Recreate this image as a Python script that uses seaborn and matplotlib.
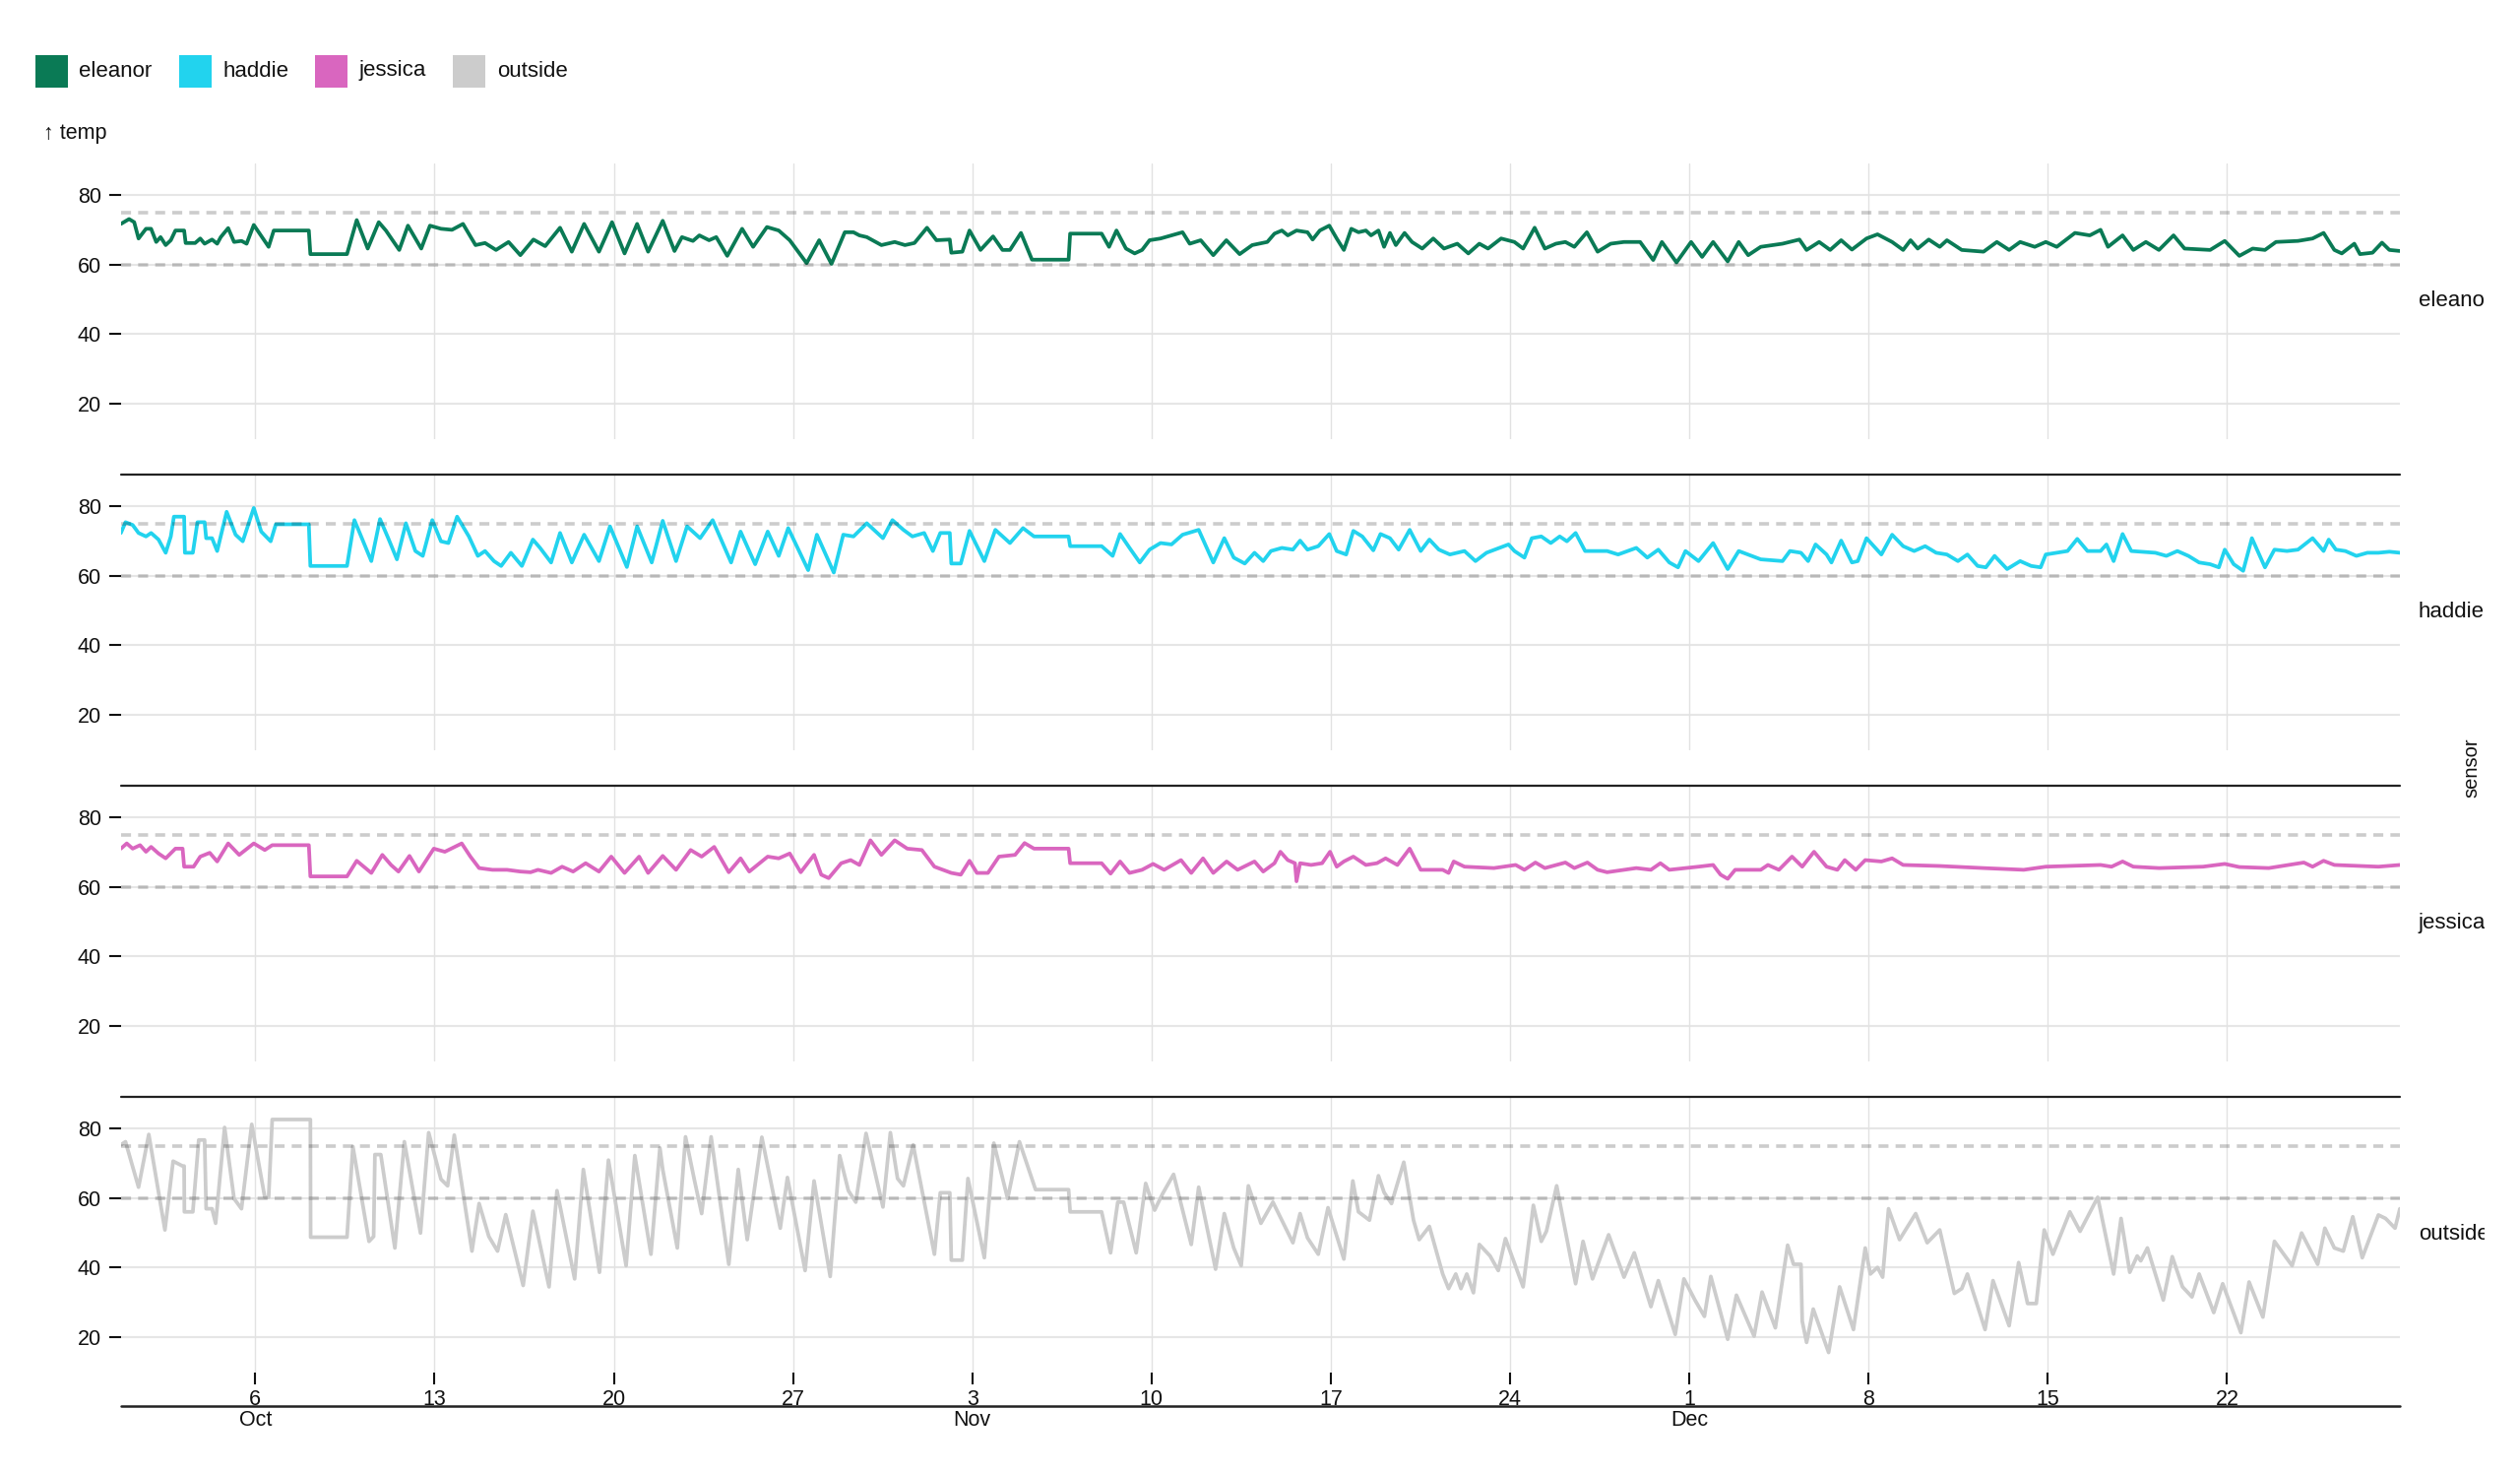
import numpy as np
import pandas as pd
import matplotlib
matplotlib.use("Agg")
import matplotlib.pyplot as plt
import matplotlib.dates as mdates
import seaborn as sns
from matplotlib.transforms import Bbox, blended_transform_factory
from matplotlib.patches import Rectangle
from matplotlib.lines import Line2D

# ---------------- data ----------------
sensors = ["eleanor", "haddie", "jessica", "outside"]
sensor_colors = ["#0a7a55", "#22d3ee", "#d966bf", "#cccccc"]
comfort_band = [60, 75]
y_ticks = [20, 40, 60, 80]
start_date = "2024-10-01"
week_ticks = pd.date_range("2024-10-06", "2024-12-22", freq="7D")
month_ticks = ["2024-10-06", "2024-11-03", "2024-12-01"]
month_labels = ["Oct", "Nov", "Dec"]

# (days since Oct 1, temperature)
eleanor = [
    (-0.25, 71.7), (0.07, 73.1), (0.27, 72.2), (0.44, 67.5), (0.73, 70.3), (0.93, 70.3), (1.13, 66.5),
    (1.30, 67.9), (1.50, 65.6), (1.70, 67.0), (1.88, 69.8), (2.22, 69.8), (2.28, 66.2), (2.65, 66.2),
    (2.85, 67.5), (3.02, 66.0), (3.31, 67.2), (3.51, 66.0), (3.65, 67.9), (3.94, 70.5), (4.17, 66.5),
    (4.46, 66.8), (4.66, 66.0), (4.94, 71.4), (5.17, 68.9), (5.52, 65.1), (5.72, 69.8), (7.09, 69.8),
    (7.15, 63.0), (8.58, 63.0), (8.96, 72.8), (9.39, 64.6), (9.82, 72.2), (10.10, 69.8), (10.62, 64.2),
    (10.96, 71.2), (11.48, 64.6), (11.82, 71.2), (12.25, 70.3), (12.68, 70.0), (13.11, 71.7), (13.60, 65.6),
    (13.97, 66.2), (14.40, 64.2), (14.89, 66.5), (15.35, 62.7), (15.86, 67.2), (16.32, 65.3), (16.90, 70.6),
    (17.36, 63.7), (17.84, 71.7), (18.42, 63.7), (18.93, 72.2), (19.42, 63.2), (19.91, 71.7), (20.34, 63.7),
    (20.91, 72.6), (21.37, 63.9), (21.66, 67.9), (22.09, 66.8), (22.34, 68.4), (22.72, 67.0), (23.00, 67.9),
    (23.43, 62.5), (24.01, 70.3), (24.44, 65.1), (24.98, 70.8), (25.44, 69.8), (25.87, 67.0), (26.53, 60.4),
    (27.02, 67.0), (27.50, 60.2), (28.02, 69.3), (28.36, 69.3), (28.59, 68.4), (28.88, 67.9), (29.45, 65.6),
    (29.97, 66.5), (30.37, 65.6), (30.74, 66.2), (31.23, 70.6), (31.60, 67.0), (32.12, 67.2), (32.18, 63.4),
    (32.61, 63.7), (32.89, 69.8), (33.32, 64.2), (33.81, 68.1), (34.18, 64.2), (34.47, 64.2), (34.90, 69.1),
    (35.33, 61.4), (36.76, 61.4), (36.82, 68.9), (38.05, 68.9), (38.34, 65.1), (38.63, 69.8), (39.00, 64.6),
    (39.34, 63.2), (39.63, 64.2), (39.92, 67.0), (40.35, 67.5), (40.78, 68.4), (41.21, 69.3), (41.49, 66.0),
    (41.92, 67.0), (42.41, 62.7), (42.92, 67.0), (43.44, 63.0), (43.93, 65.6), (44.52, 66.5), (44.80, 68.9),
    (45.09, 69.8), (45.32, 68.4), (45.66, 69.8), (46.09, 69.3), (46.29, 67.2), (46.57, 69.8), (46.94, 71.2),
    (47.23, 67.5), (47.51, 64.2), (47.80, 70.3), (48.08, 69.3), (48.37, 69.8), (48.57, 68.4), (48.86, 69.8),
    (49.08, 65.1), (49.31, 69.1), (49.54, 65.6), (49.88, 69.1), (50.17, 66.5), (50.57, 64.6), (51.00, 67.5),
    (51.42, 64.6), (51.94, 66.0), (52.37, 63.2), (52.80, 66.0), (53.14, 64.6), (53.65, 67.5), (54.17, 66.5),
    (54.51, 64.6), (54.96, 70.6), (55.36, 64.6), (55.79, 66.0), (56.16, 66.5), (56.51, 65.1), (57.00, 69.3),
    (57.42, 63.7), (57.93, 66.0), (58.45, 66.5), (59.08, 66.5), (59.59, 61.3), (59.93, 66.5), (60.50, 60.6),
    (61.07, 66.5), (61.50, 62.2), (61.93, 66.5), (62.50, 60.9), (62.93, 66.5), (63.30, 62.7), (63.79, 65.1),
    (64.64, 66.0), (65.30, 67.2), (65.58, 64.2), (66.07, 66.5), (66.50, 64.2), (66.93, 67.0), (67.35, 64.3),
    (67.92, 67.5), (68.35, 68.7), (68.92, 66.5), (69.35, 64.2), (69.64, 67.0), (69.92, 64.6), (70.35, 67.2),
    (70.78, 65.1), (71.06, 67.0), (71.64, 64.2), (72.49, 63.7), (73.01, 66.5), (73.49, 64.2), (73.92, 66.5),
    (74.49, 65.1), (74.92, 66.5), (75.35, 65.1), (76.06, 69.1), (76.64, 68.4), (77.06, 70.0), (77.35, 65.1),
    (77.92, 68.4), (78.34, 64.2), (78.83, 66.5), (79.34, 64.2), (79.91, 68.4), (80.34, 64.6), (81.34, 64.2),
    (81.91, 66.8), (82.48, 62.5), (83.00, 64.6), (83.48, 64.2), (83.91, 66.5), (84.77, 66.8), (85.34, 67.5),
    (85.77, 69.1), (86.19, 64.2), (86.48, 63.2), (86.97, 66.0), (87.19, 63.0), (87.68, 63.4), (88.05, 66.3),
    (88.34, 64.2), (88.75, 63.9),
]

haddie = [
    (-0.25, 72.3), (-0.07, 75.4), (0.21, 74.6), (0.44, 72.3), (0.73, 71.3), (0.93, 72.3), (1.22, 70.4),
    (1.50, 66.6), (1.70, 71.3), (1.82, 77.0), (2.22, 77.0), (2.25, 66.6), (2.56, 66.6), (2.74, 75.4),
    (3.02, 75.4), (3.08, 70.8), (3.31, 70.8), (3.51, 67.1), (3.88, 78.4), (4.23, 71.8), (4.51, 69.9),
    (4.94, 79.5), (5.23, 72.7), (5.60, 69.9), (5.80, 74.8), (7.09, 74.8), (7.15, 62.8), (8.58, 62.8),
    (8.87, 76.0), (9.16, 70.8), (9.53, 64.2), (9.87, 76.3), (10.19, 70.8), (10.53, 64.7), (10.88, 75.1),
    (11.25, 67.1), (11.54, 65.7), (11.91, 76.0), (12.25, 69.9), (12.54, 69.4), (12.88, 77.0), (13.34, 71.3),
    (13.69, 65.7), (13.97, 67.1), (14.32, 64.2), (14.60, 62.8), (14.98, 66.6), (15.41, 62.8), (15.84, 70.4),
    (16.12, 68.0), (16.55, 63.8), (16.90, 72.3), (17.36, 63.8), (17.84, 71.8), (18.42, 64.2), (18.85, 74.2),
    (19.51, 62.5), (19.91, 74.2), (20.48, 63.8), (20.91, 75.8), (21.43, 64.2), (21.86, 74.2), (22.37, 70.8),
    (22.86, 76.0), (23.58, 63.8), (23.95, 72.7), (24.52, 63.3), (25.01, 72.7), (25.44, 65.7), (25.81, 73.7),
    (26.59, 61.6), (26.93, 71.8), (27.59, 60.9), (27.96, 71.8), (28.36, 71.3), (28.88, 75.1), (29.51, 70.8),
    (29.88, 76.0), (30.31, 73.2), (30.66, 71.3), (31.12, 72.3), (31.46, 67.1), (31.75, 72.3), (32.12, 72.3),
    (32.18, 63.5), (32.55, 63.5), (32.89, 72.9), (33.47, 64.2), (33.90, 73.2), (34.47, 69.4), (34.98, 73.7),
    (35.41, 71.3), (36.76, 71.3), (36.82, 68.5), (38.05, 68.5), (38.48, 65.7), (38.77, 72.0), (39.14, 68.0),
    (39.54, 63.8), (39.92, 67.5), (40.35, 69.4), (40.78, 69.0), (41.21, 71.8), (41.84, 73.2), (42.41, 63.8),
    (42.84, 70.8), (43.21, 65.2), (43.64, 63.5), (44.02, 66.6), (44.36, 64.2), (44.66, 67.1), (45.09, 68.0),
    (45.52, 67.5), (45.80, 70.1), (46.09, 67.5), (46.51, 68.5), (46.94, 72.0), (47.23, 67.1), (47.60, 66.1),
    (47.88, 72.9), (48.23, 71.3), (48.66, 67.3), (48.94, 72.0), (49.31, 70.8), (49.65, 67.5), (50.08, 73.2),
    (50.51, 67.1), (50.85, 70.4), (51.22, 67.5), (51.65, 66.1), (52.22, 67.1), (52.65, 64.2), (53.08, 66.6),
    (53.94, 69.0), (54.17, 67.1), (54.56, 65.2), (54.85, 70.8), (55.22, 71.3), (55.59, 69.4), (55.94, 71.3),
    (56.22, 69.9), (56.56, 72.3), (56.93, 67.1), (57.79, 67.1), (58.22, 66.1), (58.93, 68.0), (59.36, 65.2),
    (59.79, 67.5), (60.22, 63.8), (60.56, 62.4), (60.85, 67.1), (61.36, 64.2), (61.93, 69.4), (62.50, 61.9),
    (62.93, 67.1), (63.79, 64.7), (64.64, 64.2), (64.93, 67.1), (65.36, 66.6), (65.64, 64.2), (65.93, 69.0),
    (66.36, 66.1), (66.55, 63.8), (66.93, 70.1), (67.35, 63.8), (67.58, 64.2), (67.92, 70.8), (68.50, 66.1),
    (68.92, 71.8), (69.35, 68.5), (69.78, 67.1), (70.21, 68.5), (70.64, 66.6), (71.06, 66.1), (71.49, 64.2),
    (71.86, 66.1), (72.26, 62.8), (72.58, 62.4), (72.92, 65.7), (73.41, 61.9), (73.92, 64.2), (74.35, 62.8),
    (74.72, 62.4), (74.92, 66.1), (75.35, 66.6), (75.77, 67.1), (76.15, 70.6), (76.55, 67.1), (77.06, 67.1),
    (77.29, 69.0), (77.57, 64.2), (77.92, 72.0), (78.26, 67.1), (79.20, 66.6), (79.63, 65.7), (80.06, 67.1),
    (80.49, 65.7), (80.91, 63.8), (81.34, 63.3), (81.68, 62.4), (81.91, 67.5), (82.26, 63.3), (82.63, 61.4),
    (82.97, 70.8), (83.48, 62.4), (83.85, 67.5), (84.34, 67.1), (84.77, 67.5), (85.34, 70.8), (85.77, 67.1),
    (85.97, 70.4), (86.25, 67.5), (86.62, 67.1), (87.05, 65.7), (87.48, 66.6), (87.91, 66.6), (88.34, 66.9),
    (88.75, 66.6),
]

jessica = [
    (-0.25, 71.0), (-0.02, 72.5), (0.21, 71.0), (0.50, 72.0), (0.73, 70.1), (0.93, 71.5), (1.22, 69.6),
    (1.50, 68.2), (1.88, 71.0), (2.16, 71.0), (2.22, 65.8), (2.59, 65.8), (2.85, 68.7), (3.22, 69.8),
    (3.51, 67.3), (3.94, 72.5), (4.37, 69.2), (4.94, 72.5), (5.37, 70.6), (5.66, 72.0), (7.09, 72.0),
    (7.15, 63.0), (8.58, 63.0), (8.96, 67.5), (9.24, 65.8), (9.53, 64.0), (9.96, 69.2), (10.30, 66.3),
    (10.59, 64.4), (11.02, 68.9), (11.39, 64.4), (11.97, 71.0), (12.40, 70.1), (13.06, 72.5), (13.40, 68.7),
    (13.74, 65.4), (14.26, 64.9), (14.83, 64.9), (15.35, 64.4), (15.75, 64.2), (16.04, 64.9), (16.55, 64.0),
    (16.98, 65.8), (17.41, 64.4), (17.90, 66.8), (18.42, 64.4), (18.90, 68.7), (19.42, 64.0), (19.99, 68.7),
    (20.34, 64.0), (20.91, 68.9), (21.43, 64.9), (22.00, 70.6), (22.43, 68.7), (22.92, 71.5), (23.49, 64.2),
    (23.95, 68.2), (24.29, 64.4), (25.01, 68.7), (25.44, 68.2), (25.87, 69.6), (26.30, 64.2), (26.82, 69.2),
    (27.10, 63.5), (27.39, 62.5), (27.88, 66.8), (28.25, 67.7), (28.59, 66.3), (29.02, 73.4), (29.45, 69.2),
    (29.97, 73.4), (30.46, 71.0), (31.03, 70.6), (31.52, 65.8), (32.18, 64.0), (32.55, 63.5), (32.89, 67.5),
    (33.18, 64.0), (33.61, 64.0), (34.04, 68.7), (34.67, 69.2), (35.04, 72.6), (35.41, 71.0), (36.76, 71.0),
    (36.82, 66.8), (38.05, 66.8), (38.40, 63.8), (38.77, 67.3), (39.14, 64.0), (39.63, 64.9), (40.06, 66.6),
    (40.49, 64.9), (41.15, 67.7), (41.55, 64.0), (42.01, 68.2), (42.41, 64.0), (42.93, 67.3), (43.36, 64.9),
    (44.02, 67.3), (44.36, 64.4), (44.80, 66.8), (45.03, 70.1), (45.32, 67.7), (45.60, 66.8), (45.66, 61.6),
    (45.80, 66.8), (46.23, 66.3), (46.66, 66.8), (46.97, 70.1), (47.23, 65.8), (47.51, 67.3), (47.88, 68.7),
    (48.37, 66.3), (48.80, 66.8), (49.14, 68.2), (49.60, 66.3), (50.08, 71.0), (50.51, 64.9), (51.37, 64.9),
    (51.60, 64.0), (51.80, 67.3), (52.22, 65.8), (53.37, 65.4), (54.22, 66.3), (54.56, 64.9), (54.99, 67.0),
    (55.36, 65.4), (56.16, 67.0), (56.51, 65.4), (57.02, 67.0), (57.42, 64.9), (57.79, 64.2), (58.93, 65.4),
    (59.50, 64.9), (59.87, 66.8), (60.22, 64.9), (61.36, 65.8), (61.93, 66.3), (62.22, 63.5), (62.50, 62.3),
    (62.79, 64.9), (63.79, 64.9), (64.07, 66.3), (64.50, 64.9), (65.01, 68.7), (65.41, 65.8), (65.87, 70.1),
    (66.36, 65.8), (66.78, 64.9), (67.07, 67.7), (67.50, 64.9), (67.87, 67.7), (68.50, 67.3), (68.92, 68.2),
    (69.35, 66.3), (70.78, 66.0), (72.49, 65.4), (74.06, 64.9), (74.92, 65.8), (77.06, 66.3), (77.49, 65.8),
    (77.92, 67.3), (78.34, 65.8), (79.34, 65.4), (81.06, 65.8), (81.91, 66.6), (82.48, 65.7), (83.63, 65.4),
    (85.00, 67.0), (85.34, 65.8), (85.77, 67.5), (86.19, 66.3), (87.91, 65.8), (88.75, 66.3),
]

outside = [
    (-0.25, 75.3), (-0.07, 76.2), (0.44, 63.1), (0.84, 78.3), (1.47, 50.8), (1.79, 70.6), (2.16, 69.2),
    (2.22, 69.2), (2.23, 56.0), (2.56, 56.0), (2.79, 76.7), (3.02, 76.7), (3.08, 56.9), (3.31, 56.9),
    (3.45, 52.7), (3.80, 80.3), (4.17, 59.8), (4.46, 56.9), (4.86, 81.2), (5.37, 60.2), (5.52, 60.2),
    (5.66, 82.6), (7.15, 82.6), (7.16, 48.7), (8.58, 48.7), (8.81, 74.8), (9.44, 47.5), (9.62, 48.9),
    (9.67, 72.5), (9.90, 72.5), (10.45, 45.6), (10.82, 76.2), (11.45, 49.9), (11.77, 78.8), (12.25, 65.4),
    (12.51, 63.5), (12.77, 78.1), (13.46, 44.7), (13.74, 58.4), (14.12, 48.9), (14.46, 44.7), (14.78, 55.2),
    (15.46, 34.8), (15.84, 56.2), (16.47, 34.4), (16.78, 62.1), (17.47, 36.7), (17.81, 68.2), (18.44, 38.6),
    (18.79, 70.9), (19.48, 40.5), (19.82, 72.2), (20.45, 43.8), (20.80, 74.4), (20.91, 68.2), (21.48, 45.6),
    (21.80, 77.6), (22.14, 65.4), (22.43, 55.5), (22.80, 77.6), (23.49, 40.9), (23.86, 68.2), (24.21, 48.0),
    (24.78, 77.5), (25.50, 51.3), (25.78, 65.9), (26.47, 39.1), (26.82, 64.9), (27.45, 37.4), (27.82, 72.2),
    (28.16, 62.1), (28.45, 58.8), (28.85, 78.6), (29.51, 57.4), (29.80, 78.8), (30.08, 65.6), (30.31, 63.5),
    (30.69, 75.3), (31.52, 43.8), (31.75, 61.5), (32.12, 61.5), (32.18, 42.1), (32.61, 42.1), (32.83, 65.6),
    (33.47, 42.8), (33.84, 75.8), (34.38, 59.8), (34.84, 76.2), (35.47, 62.4), (36.76, 62.4), (36.82, 56.0),
    (38.05, 56.0), (38.40, 44.2), (38.68, 58.8), (38.91, 58.8), (39.40, 44.2), (39.77, 64.2), (40.12, 56.5),
    (40.43, 61.2), (40.86, 66.8), (41.55, 46.6), (41.84, 63.1), (42.50, 39.5), (42.84, 55.5), (43.21, 45.6),
    (43.50, 40.5), (43.78, 63.5), (44.27, 52.7), (44.74, 58.8), (45.52, 47.1), (45.80, 55.5), (46.09, 48.5),
    (46.51, 43.8), (46.89, 57.2), (47.51, 42.4), (47.86, 64.9), (48.08, 56.0), (48.51, 53.6), (48.86, 66.4),
    (49.08, 61.6), (49.37, 58.4), (49.85, 70.3), (50.23, 53.6), (50.45, 48.0), (50.85, 51.8), (51.37, 38.1),
    (51.60, 33.9), (51.88, 38.1), (52.08, 33.9), (52.31, 38.1), (52.57, 32.7), (52.80, 46.6), (53.22, 43.3),
    (53.54, 39.1), (53.82, 48.3), (54.51, 34.4), (54.91, 57.9), (55.22, 47.5), (55.42, 50.4), (55.82, 63.5),
    (56.56, 35.3), (56.85, 47.5), (57.22, 36.7), (57.85, 49.4), (58.45, 37.2), (58.85, 44.2), (59.50, 28.7),
    (59.79, 36.2), (60.45, 20.7), (60.79, 36.7), (61.22, 30.6), (61.59, 25.9), (61.84, 37.4), (62.50, 19.3),
    (62.84, 32.0), (63.53, 20.2), (63.84, 32.9), (64.36, 22.6), (64.84, 46.4), (65.07, 40.9), (65.36, 40.9),
    (65.41, 24.5), (65.58, 18.4), (65.84, 28.0), (66.44, 15.5), (66.87, 34.4), (67.41, 22.1), (67.87, 45.6),
    (68.07, 38.1), (68.35, 40.0), (68.55, 37.2), (68.78, 56.9), (69.21, 48.0), (69.84, 55.5), (70.29, 47.1),
    (70.78, 50.8), (71.35, 32.5), (71.64, 33.9), (71.86, 38.1), (72.55, 22.1), (72.86, 36.2), (73.49, 23.2),
    (73.86, 41.4), (74.21, 29.6), (74.55, 29.6), (74.86, 50.8), (75.20, 43.8), (75.86, 56.0), (76.26, 50.4),
    (76.95, 60.2), (77.57, 38.1), (77.86, 54.1), (78.20, 38.6), (78.49, 43.3), (78.63, 41.9), (78.89, 45.6),
    (79.51, 30.6), (79.86, 43.1), (80.26, 34.4), (80.63, 31.5), (80.91, 38.1), (81.48, 27.0), (81.83, 35.3),
    (82.54, 21.2), (82.86, 35.8), (83.40, 25.7), (83.85, 47.5), (84.54, 40.5), (84.91, 49.9), (85.54, 40.9),
    (85.82, 51.3), (86.19, 45.6), (86.54, 44.7), (86.91, 54.6), (87.28, 42.8), (87.91, 55.1), (88.19, 54.1),
    (88.56, 51.3), (88.75, 56.9),
]

series = {"eleanor": eleanor, "haddie": haddie, "jessica": jessica, "outside": outside}

# ---------------- build long table ----------------
rows = []
for name, pts in series.items():
    for d, v in pts:
        rows.append((name, d, v))
df = pd.DataFrame(rows, columns=["sensor", "day", "temp"])
df["time"] = pd.Timestamp(start_date) + pd.to_timedelta(df["day"], unit="D")

# ---------------- style ----------------
sns.set_theme(style="white")
plt.rcParams["font.family"] = ["Liberation Sans", "DejaVu Sans"]
FS = 15.5

W, H = 2560, 1496
fig = plt.figure(figsize=(W / 100, H / 100), dpi=100, facecolor="white")

def fx(x):
    return x / W

def fy(y):
    return 1 - y / H

L, R = 122.8, 2438.0
tops = [165.7, 481.7, 797.7, 1113.7]
PH = 280.0
tmin, tmax = df["time"].min(), df["time"].max()

axes = []
for i, s in enumerate(sensors):
    ax = fig.add_axes([fx(L), fy(tops[i] + PH), (R - L) / W, PH / H])
    ax.set_facecolor("none")
    for yv in y_ticks:
        ax.axhline(yv, color="#e6e6e6", lw=1.5, zorder=0)
    for t in week_ticks:
        ax.axvline(t, color="#e2e2e2", lw=1.0, zorder=0)
    sub = df[df["sensor"] == s]
    sns.lineplot(data=sub, x="time", y="temp", color=sensor_colors[i], linewidth=2.7,
                 estimator=None, sort=False, ax=ax, legend=False, zorder=2)
    for yv in comfort_band:
        ax.axhline(yv, color="black", alpha=0.2, lw=2.6, dashes=(2.8, 2.0), zorder=3)
    ax.set_xlim(tmin, tmax)
    ax.set_ylim(9.8, 89.2)
    ax.set_xlabel("")
    ax.set_ylabel("")
    for sp in ax.spines.values():
        sp.set_visible(False)
    ax.set_yticks(y_ticks)
    ax.set_yticklabels([str(v) for v in y_ticks])
    ax.tick_params(axis="y", left=True, length=8.6, width=1.5, pad=5.8,
                   labelsize=FS, colors="#111111")
    if i < 3:
        ax.set_xticks([])
    else:
        ax.set_xticks(week_ticks)
        ax.set_xticklabels([str(t.day) for t in week_ticks])
        ax.tick_params(axis="x", bottom=True, length=8.6, width=1.5, pad=4.0,
                       labelsize=FS, colors="#111111")
    axes.append(ax)

    # facet label on the right, clipped at the svg edge
    lab = fig.text(fx(2457), fy(tops[i] + PH / 2), s, ha="left", va="center",
                   fontsize=FS + 0.5, color="#111111")
    lab.set_clip_on(True)
    lab.set_clip_box(Bbox.from_extents(0, 0, 2524, H))

# black rules at top of lower facets and the x axis line
for t in tops[1:]:
    fig.add_artist(Line2D([fx(L), fx(R)], [fy(t), fy(t)], color="#222222", lw=1.6))
fig.add_artist(Line2D([fx(L), fx(R)], [fy(1428), fy(1428)], color="#222222", lw=1.8))

# month labels
ax4 = axes[-1]
tr = blended_transform_factory(ax4.transData, fig.transFigure)
for m, lab in zip(month_ticks, month_labels):
    ax4.text(mdates.date2num(pd.Timestamp(m)), fy(1442), lab, transform=tr,
             ha="center", va="center", fontsize=FS, color="#111111")

# y axis title and facet title
fig.text(fx(44), fy(136), "↑ temp", ha="left", va="center", fontsize=FS, color="#111111")
fig.text(fx(2511), fy(779.7), "sensor", rotation=90, ha="center", va="center",
         fontsize=FS - 1, color="#111111")

# legend
sw_x = [35.7, 182, 320, 460]
tx_x = [80, 227, 365, 505]
for i, s in enumerate(sensors):
    fig.add_artist(Rectangle((fx(sw_x[i]), fy(89)), 33 / W, 33 / H,
                             transform=fig.transFigure, facecolor=sensor_colors[i],
                             edgecolor="none"))
    fig.text(fx(tx_x[i]), fy(72), s, ha="left", va="center", fontsize=FS + 0.5,
             color="#111111")

fig.savefig("out.png", dpi=100, facecolor="white")
